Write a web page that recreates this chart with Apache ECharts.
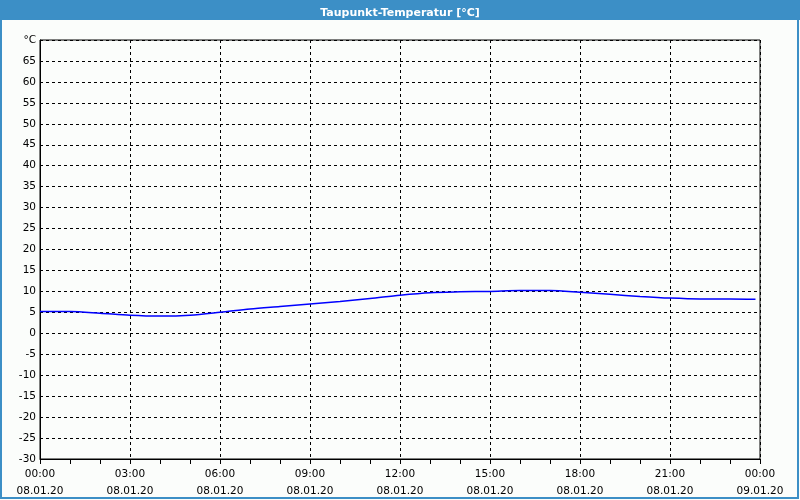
<!DOCTYPE html>
<html>
<head>
<meta charset="utf-8">
<script src="https://cdn.jsdelivr.net/npm/echarts@6/dist/echarts.min.js"></script>
<style>
  html, body { margin: 0; padding: 0; background: #fff; }
  #chart { width: 800px; height: 500px; }
</style>
</head>
<body>
<div id="chart"></div>
<script>
// hours since 08.01.20 00:00
const hours = [0, 1, 2, 3, 4, 5, 6, 7, 8, 9, 10, 11, 12, 13, 14, 15, 16, 17, 18, 19, 20, 21, 22, 23, 23.85]
const dewPoint = [5.2, 5.2, 4.8, 4.3, 4.1, 4.3, 5.0, 5.8, 6.4, 7.0, 7.6, 8.3, 9.1, 9.7, 9.9, 10.0, 10.2, 10.2, 9.8, 9.3, 8.8, 8.4, 8.2, 8.2, 8.1]
const timeLabels = ['00:00', '03:00', '06:00', '09:00', '12:00', '15:00', '18:00', '21:00', '00:00']
const dateLabels = ['08.01.20', '08.01.20', '08.01.20', '08.01.20', '08.01.20', '08.01.20', '08.01.20', '08.01.20', '09.01.20']

let data = []
for (let i in hours) {
  data.push([hours[i], dewPoint[i]])
}

const myChart = echarts.init(document.getElementById('chart'))
const option = {
  animation: false,
  backgroundColor: '#fbfdfb',
  textStyle: { fontFamily: 'DejaVu Sans' },
  graphic: [
    {
      type: 'rect',
      shape: { x: 0, y: 0, width: 800, height: 20 },
      style: { fill: '#3c8fc6' },
      silent: true,
      z: 0
    },
    {
      type: 'rect',
      shape: { x: 1, y: 1, width: 797, height: 497 },
      style: { fill: null, stroke: '#3c8fc6', lineWidth: 2 },
      silent: true,
      z: 0
    }
  ],
  title: {
    text: 'Taupunkt-Temperatur [°C]',
    left: 'center',
    top: 3,
    textStyle: { color: '#fff', fontSize: 11, fontWeight: 'bold', fontFamily: 'DejaVu Sans' }
  },
  grid: {
    left: 40, right: 40, top: 40, bottom: 40,
    show: true,
    borderColor: '#000',
    borderWidth: 1
  },
  xAxis: {
    type: 'value',
    min: 0, max: 24, interval: 3,
    axisLine: { onZero: false, lineStyle: { color: '#000' } },
    axisTick: { show: true, length: 5, lineStyle: { color: '#000' } },
    minorTick: { show: true, splitNumber: 3, length: 5, lineStyle: { color: '#000' } },
    splitLine: { show: true, lineStyle: { color: '#000', type: [3, 3] } },
    axisLabel: {
      margin: 7,
      fontSize: 10.5,
      color: '#000',
      lineHeight: 17,
      formatter: function (v) {
        const k = Math.round(v / 3)
        return timeLabels[k] + '\n' + dateLabels[k]
      }
    }
  },
  yAxis: {
    type: 'value',
    min: -30, max: 70, interval: 5,
    axisLine: { show: true, lineStyle: { color: '#000' } },
    axisTick: { show: false },
    splitLine: { show: true, lineStyle: { color: '#000', type: [3, 3] } },
    axisLabel: {
      margin: 4,
      fontSize: 10.5,
      color: '#000',
      formatter: function (v) {
        return v === 70 ? '°C' : String(v)
      }
    }
  },
  series: [
    {
      type: 'line',
      data: data,
      showSymbol: false,
      smooth: 0.3,
      lineStyle: { color: '#0000ff', width: 1.5 },
      z: 5
    }
  ]
}
myChart.setOption(option)
</script>
</body>
</html>
